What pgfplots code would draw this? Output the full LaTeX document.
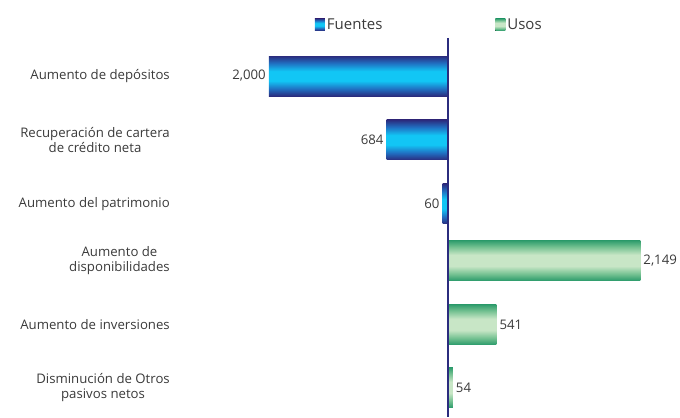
\documentclass[border=0pt]{standalone}
\usepackage{pgfplots}
\pgfplotsset{compat=1.18}
\usepackage{fontspec}
\setmainfont{Open Sans}
\definecolor{navyb}{HTML}{2B2C7E}
\definecolor{midb}{HTML}{2070C2}
\definecolor{cyanb}{HTML}{12C6F5}
\definecolor{greend}{HTML}{2E9C6C}
\definecolor{greenm}{HTML}{74C191}
\definecolor{greenl}{HTML}{C8E6C6}
\definecolor{txt}{HTML}{3A3A3A}
\pgfdeclareverticalshading{bluebar}{100bp}{color(0bp)=(navyb); color(25bp)=(navyb); color(34bp)=(midb); color(44bp)=(cyanb); color(56bp)=(cyanb); color(66bp)=(midb); color(75bp)=(navyb); color(100bp)=(navyb)}
\pgfdeclareverticalshading{greenbar}{100bp}{color(0bp)=(greend); color(25bp)=(greend); color(33bp)=(greenm); color(43bp)=(greenl); color(57bp)=(greenl); color(67bp)=(greenm); color(75bp)=(greend); color(100bp)=(greend)}

\pgfplotsset{
  fuente/.style={draw=none, shading=bluebar,
    every node near coord/.append style={anchor=east, inner sep=3pt, text=txt, font=\fontsize{13.2}{15}\selectfont}},
  uso/.style={draw=none, shading=greenbar,
    every node near coord/.append style={anchor=west, inner sep=3pt, text=txt, font=\fontsize{13.2}{15}\selectfont}},
}

\begin{document}
\begin{tikzpicture}[font=\fontsize{13.2}{15.5}\selectfont]
\begin{axis}[
  scale only axis, width=510pt, height=379pt,
  xbar, bar width=40pt, bar shift=0pt,
  xmin=-3106, xmax=2592,
  ymin=-0.594, ymax=5.328, y dir=reverse,
  axis line style={draw=none}, major tick length=0pt,
  xtick=\empty, ytick={0,1,2,2.883,3.883,4.867},
  yticklabels={Aumento de depósitos, {Recuperación de cartera\\de crédito neta}, Aumento del patrimonio, {Aumento de\\disponibilidades}, Aumento de inversiones, {Disminución de Otros\\pasivos netos}},
  yticklabel style={align=center, inner sep=0pt, text=txt, font=\fontsize{13.2}{15.5}\selectfont},
  nodes near coords, point meta=explicit symbolic,
  legend columns=2,
  legend style={draw=none, fill=none, inner sep=0pt, at={(axis description cs:0.284,1.0356)}, anchor=west,
    font=\fontsize{15}{17}\selectfont, text=txt,
    /tikz/every even column/.append style={column sep=111pt}},
  legend image code/.code={\fill[#1] (0pt,-6pt) rectangle (10pt,6pt);},
  clip=false,
]
% una serie por barra, para que cada barra lleve su propio degradado
\addplot[fuente] coordinates {(-2000,0) [2{,}000]};
\addlegendentry{Fuentes}
\addplot[uso] coordinates {(2149,2.883) [2{,}149]};
\addlegendentry{Usos}
\addplot[fuente, forget plot] coordinates {(-684,1) [684]};
\addplot[fuente, forget plot] coordinates {(-60,2) [60]};
\addplot[uso, forget plot] coordinates {(541,3.883) [541]};
\addplot[uso, forget plot] coordinates {(54,4.867) [54]};
\draw[navyb, line width=1.2pt] (axis cs:0,-0.594) -- (axis cs:0,5.328);
\end{axis}
\path (-170pt,0pt) rectangle (510pt,417pt);
\end{tikzpicture}
\end{document}
